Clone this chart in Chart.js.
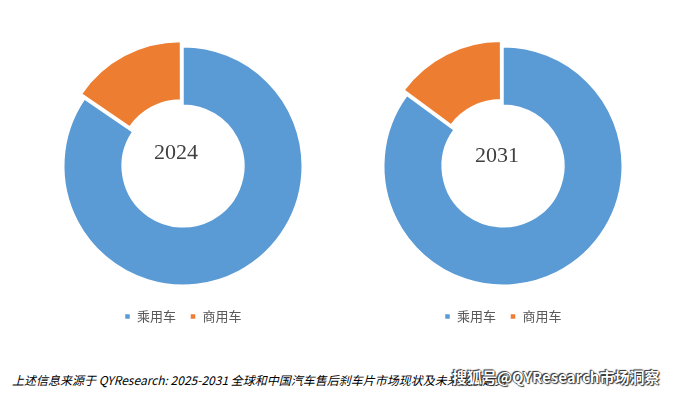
<!DOCTYPE html>
<html>
<head>
<meta charset="utf-8">
<script src="https://cdn.jsdelivr.net/npm/chart.js@4/dist/chart.umd.min.js"></script>
<style>
  body { margin: 0; background: #fff; width: 677px; height: 395px; position: relative; overflow: hidden; }
  .box { position: absolute; top: 36px; width: 320px; height: 297px; }
  #note { position: absolute; left: 12px; top: 371px; font: italic 12px "Noto Sans CJK SC", sans-serif; color: #000; white-space: nowrap; }
  #mark { position: absolute; left: 452px; top: 366px; font: bold 15px "Noto Sans CJK SC", sans-serif; color: #fff; white-space: nowrap;
          text-shadow: 0 0 1px #000, 1px 1px 1px #333, -1px -1px 1px #333; }
</style>
</head>
<body>
<div class="box" style="left:23px"><canvas id="c2024"></canvas></div>
<div class="box" style="left:343px"><canvas id="c2031"></canvas></div>
<div id="note">上述信息来源于 QYResearch: 2025-2031 全球和中国汽车售后刹车片市场现状及未来发展趋势</div>
<div id="mark">搜狐号@QYResearch市场洞察</div>
<script>
const labels = ['乘用车', '商用车'];
const share2024 = [84.5, 15.5];
const share2031 = [85.1, 14.9];
const colors = ['#5B9BD5', '#ED7D31'];

// year label written in the hole
const centerText = {
  id: 'centerText',
  afterDraw(chart, args, opts) {
    const arc = chart.getDatasetMeta(0).data[0];
    const ctx = chart.ctx;
    ctx.save();
    ctx.font = '22px "Liberation Serif", serif';
    ctx.fillStyle = '#404040';
    ctx.textAlign = 'center';
    ctx.textBaseline = 'middle';
    ctx.fillText(opts.text, arc.x + opts.dx, arc.y + opts.dy);
    ctx.restore();
  }
};

function makeDonut(id, year, values, dx, dy) {
  return new Chart(document.getElementById(id), {
    type: 'doughnut',
    data: {
      labels: labels,
      datasets: [{
        data: values,
        backgroundColor: colors,
        borderColor: '#fff',
        borderWidth: 1.5,
        offset: [0, 20],
        hoverOffset: 0
      }]
    },
    options: {
      responsive: true,
      maintainAspectRatio: false,
      animation: false,
      cutout: '51%',
      layout: { padding: 0 },
      plugins: {
        centerText: { text: year, dx: dx, dy: dy },
        tooltip: { enabled: false },
        legend: {
          position: 'bottom',
          labels: {
            boxWidth: 6,
            boxHeight: 6,
            padding: 14,
            color: '#595959',
            font: { family: '"Noto Sans CJK SC", sans-serif', size: 13 }
          }
        }
      }
    },
    plugins: [centerText]
  });
}

makeDonut('c2024', '2024', share2024, -7, -13);
makeDonut('c2031', '2031', share2031, -6, -10);
</script>
</body>
</html>
